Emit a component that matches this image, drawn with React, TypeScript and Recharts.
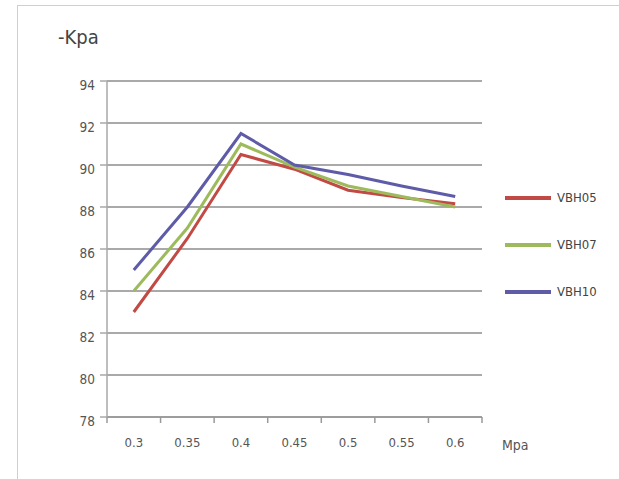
import {
  CartesianGrid,
  Label,
  Legend,
  Line,
  LineChart,
  XAxis,
  YAxis,
} from "recharts";

const categories = ["0.3", "0.35", "0.4", "0.45", "0.5", "0.55", "0.6"];
const vbh05 = [83, 86.5, 90.5, 89.8, 88.8, 88.45, 88.15];
const vbh07 = [84, 87, 91, 89.9, 89, 88.5, 88];
const vbh10 = [85, 88, 91.5, 90, 89.55, 89, 88.5];
const yTicks = [78, 80, 82, 84, 86, 88, 90, 92, 94];

const data = categories.map((name, i) => ({
  name,
  VBH05: vbh05[i],
  VBH07: vbh07[i],
  VBH10: vbh10[i],
}));

const FONT = '"DejaVu Sans Condensed", "Liberation Sans", sans-serif';
const TEXT = "#555";
const AXIS = "#9a9a9a";

const CHART_W = 619;
const CHART_H = 479;
const MARGIN = { top: 81, right: 137, bottom: 40, left: 47 };
const Y_W = 60;
const BAND = (CHART_W - MARGIN.left - MARGIN.right - Y_W) / categories.length;
const TICK_SIZE = 6;
const TICK_MARGIN = 15;

// excel-style x ticks: marks sit between categories, label in the middle
const CategoryTick = ({ x = 0, y = 0, payload, index = 0 }: any) => {
  const axisY = y - TICK_SIZE - TICK_MARGIN;
  const mark = (px: number) => (
    <line x1={px} y1={axisY} x2={px} y2={axisY + TICK_SIZE} stroke={AXIS} strokeWidth={1.5} />
  );
  return (
    <g>
      {mark(x - BAND / 2)}
      {index === categories.length - 1 && mark(x + BAND / 2)}
      <text x={x} y={y} dy="0.71em" textAnchor="middle" fill={TEXT} fontSize={13} fontFamily={FONT}>
        {payload?.value}
      </text>
    </g>
  );
};

const LegendBox = ({ payload }: { payload?: any[] }) => (
  <div style={{ fontFamily: FONT, fontSize: 13, color: "#444" }}>
    {(payload ?? []).map((entry) => (
      <div
        key={entry.value}
        style={{ display: "flex", alignItems: "center", height: 47 }}
      >
        <svg width={48} height={6}>
          <line x1={0} y1={3} x2={46} y2={3} stroke={entry.color} strokeWidth={4} />
        </svg>
        <span style={{ marginLeft: 4 }}>{entry.value}</span>
      </div>
    ))}
  </div>
);

export default function App() {
  return (
    <div style={{ position: "absolute", left: 0, top: 0, width: CHART_W, height: CHART_H, background: "#fff" }}>
      <div
        style={{
          position: "absolute",
          left: 17,
          top: 5,
          width: 620,
          height: 480,
          borderLeft: "1px solid #cfcfcf",
          borderTop: "1px solid #cfcfcf",
        }}
      />
      <div style={{ position: "absolute", left: 0, top: 0 }}>
        <LineChart width={CHART_W} height={CHART_H} data={data} margin={MARGIN}>
          <CartesianGrid vertical={false} stroke="#8c8c8c" strokeWidth={1.5} />
          <XAxis
            dataKey="name"
            scale="band"
            height={22}
            stroke={AXIS}
            strokeWidth={1.5}
            tickLine={false}
            tickSize={TICK_SIZE}
            tickMargin={TICK_MARGIN}
            interval={0}
            tick={<CategoryTick />}
          >
            <Label
              content={() => (
                <text x={502} y={450} fill={TEXT} fontSize={14} fontFamily={FONT}>
                  Mpa
                </text>
              )}
            />
          </XAxis>
          <YAxis
            width={Y_W}
            domain={[78, 94]}
            ticks={yTicks}
            interval={0}
            tickSize={7}
            tickMargin={5}
            stroke="#a8a8a8"
            strokeWidth={1.5}
            tick={{ fill: TEXT, fontSize: 13.5, fontFamily: FONT, dy: 4 }}
          >
            <Label
              content={() => (
                <text x={58} y={44} fill="#444" fontSize={20} fontFamily={FONT}>
                  -Kpa
                </text>
              )}
            />
          </YAxis>
          <Legend
            layout="vertical"
            align="center"
            verticalAlign="middle"
            wrapperStyle={{ left: 505, top: 174, width: 112 }}
            content={<LegendBox />}
          />
          <Line dataKey="VBH05" stroke="#c24a44" strokeWidth={3} dot={false} isAnimationActive={false} />
          <Line dataKey="VBH07" stroke="#9dbb5c" strokeWidth={3} dot={false} isAnimationActive={false} />
          <Line dataKey="VBH10" stroke="#5e5ba8" strokeWidth={3} dot={false} isAnimationActive={false} />
        </LineChart>
      </div>
    </div>
  );
}
